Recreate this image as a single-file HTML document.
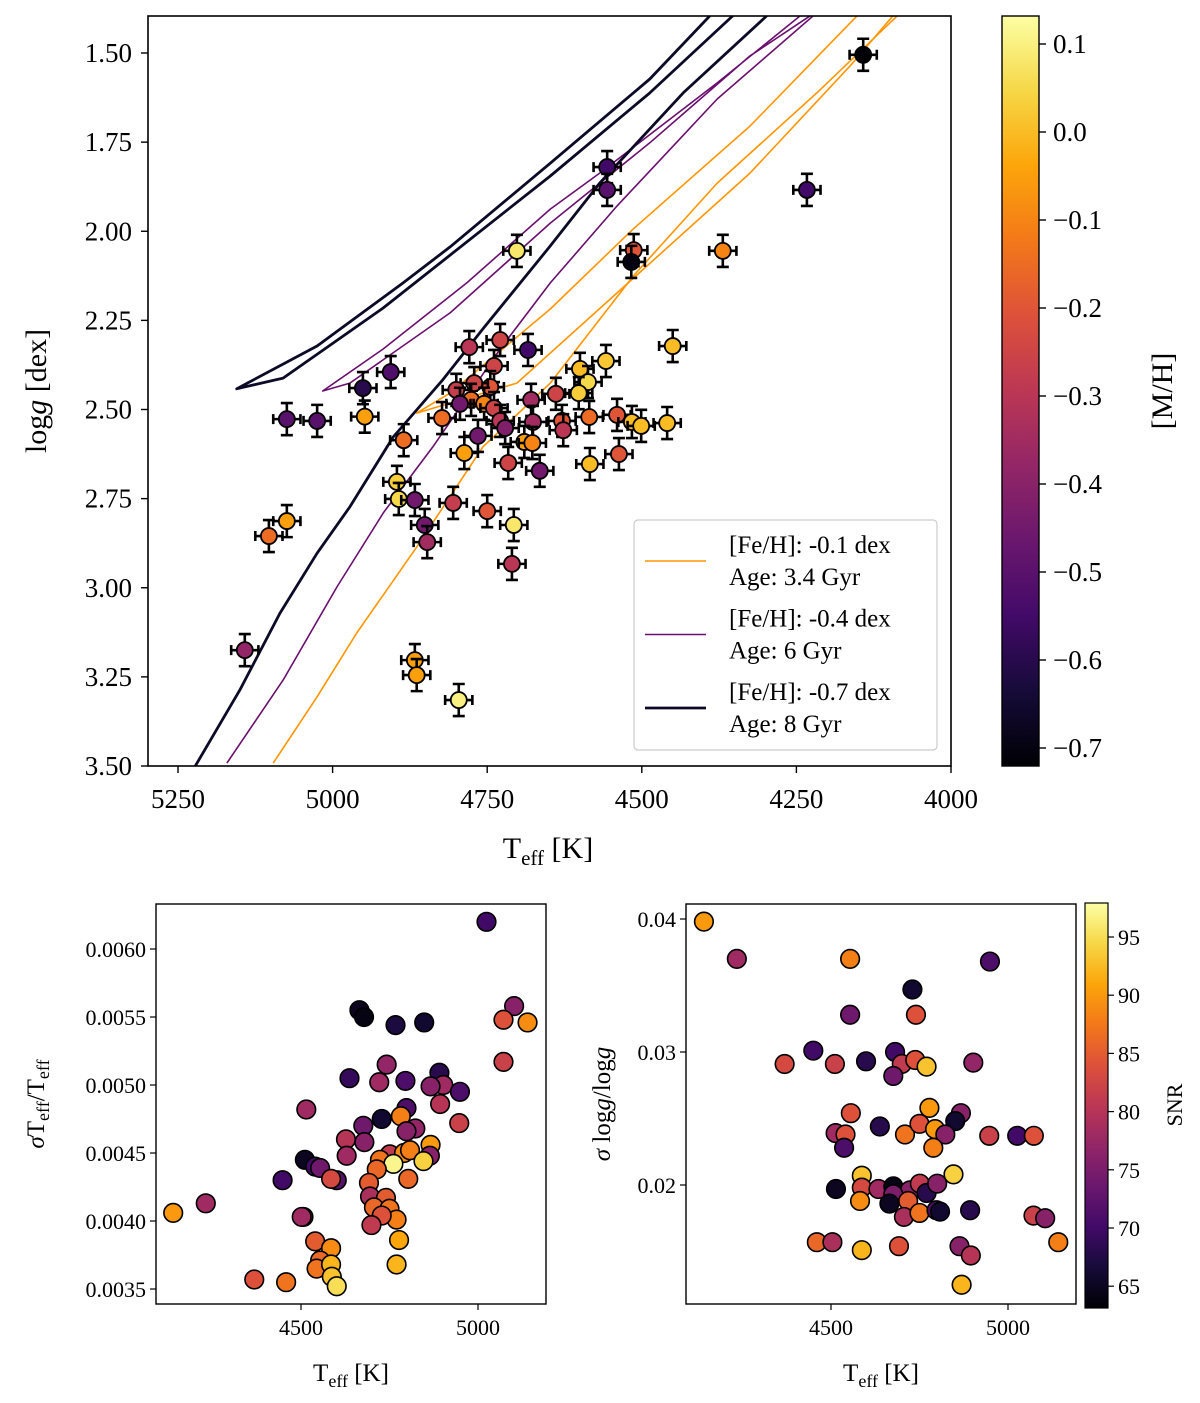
<!DOCTYPE html>
<html><head><meta charset="utf-8"><style>
html,body{margin:0;padding:0;background:#fff;}
svg{display:block;font-family:"Liberation Serif",serif;}
</style></head><body>
<svg id="fig" width="1200" height="1403" viewBox="0 0 1200 1403" xmlns="http://www.w3.org/2000/svg">
<defs>
<linearGradient id="inf" x1="0" y1="1" x2="0" y2="0">
<stop offset="0" stop-color="#000004"/><stop offset="0.1" stop-color="#160b39"/><stop offset="0.2" stop-color="#420a68"/><stop offset="0.3" stop-color="#6a176e"/><stop offset="0.4" stop-color="#932667"/><stop offset="0.5" stop-color="#bc3754"/><stop offset="0.6" stop-color="#dd513a"/><stop offset="0.7" stop-color="#f37819"/><stop offset="0.8" stop-color="#fca50a"/><stop offset="0.9" stop-color="#f6d746"/><stop offset="1" stop-color="#fcffa4"/>
</linearGradient>
<clipPath id="clipTop"><rect x="148" y="16" width="803" height="750"/></clipPath>
</defs>
<g id="topPanel"></g>
<g id="blPanel"></g>
<g id="brPanel"></g>
</svg>
<script>
// ---- Top panel data ----
const topTeff=[4142,4556,4556,4233,4702,4513,4517,4369,4450,4779,4729,4684,4906,4951,4948,5074,5025,4885,4600,4558,4587,4602,4739,4745,4771,4800,4776,4755,4794,4739,4679,4639,4823,4729,4721,4676,4629,4585,4540,4516,4501,4459,4627,4765,4690,4677,4787,4716,4665,4584,4537,4896,4893,4867,4805,4750,4851,4847,4707,4710,5074,5103,5142,4867,4864,4796];
const topLogg=[1.505,1.82,1.884,1.884,2.055,2.053,2.086,2.055,2.322,2.325,2.305,2.333,2.395,2.44,2.52,2.527,2.532,2.586,2.386,2.364,2.423,2.454,2.378,2.437,2.426,2.445,2.473,2.484,2.484,2.496,2.473,2.456,2.524,2.532,2.552,2.535,2.532,2.521,2.515,2.535,2.546,2.538,2.558,2.574,2.591,2.594,2.622,2.65,2.672,2.653,2.625,2.703,2.751,2.754,2.762,2.785,2.824,2.872,2.824,2.933,2.813,2.855,3.175,3.203,3.245,3.315];
const topMH=[-0.72,-0.55,-0.5,-0.55,0.08,-0.2,-0.7,-0.1,0.0,-0.3,-0.25,-0.55,-0.52,-0.6,-0.05,-0.5,-0.5,-0.15,0.0,0.02,0.05,0.03,-0.25,-0.2,-0.25,-0.27,-0.15,-0.1,-0.45,-0.25,-0.35,-0.25,-0.15,-0.3,-0.42,-0.35,-0.2,-0.15,-0.2,0.0,0.0,0.0,-0.3,-0.45,-0.05,-0.1,-0.05,-0.25,-0.45,0.0,-0.2,0.03,0.05,-0.45,-0.27,-0.2,-0.45,-0.35,0.08,-0.3,-0.05,-0.15,-0.38,-0.05,-0.05,0.1];
const topErrT=22, topErrG=0.045;
const xTicksTop=[5250,5000,4750,4500,4250,4000];
const yTicksTop=[1.5,1.75,2.0,2.25,2.5,2.75,3.0,3.25,3.5];
const cbTicksTop=[0.1,0.0,-0.1,-0.2,-0.3,-0.4,-0.5,-0.6,-0.7];
// isochrones
const isoOrangeRgbT=[5096,5025,4961,4864,4757,4648,4514,4378,4217,4087];
const isoOrangeRgbG=[3.492,3.306,3.127,2.886,2.605,2.426,2.126,1.865,1.612,1.396];
const isoOrangeHbT=[4152,4325,4514,4648,4810,4864,4702,4540,4325,4163,4094];
const isoOrangeHbG=[1.396,1.705,1.994,2.218,2.454,2.510,2.426,2.173,1.837,1.536,1.396];
const isoPurpleRgbT=[5171,5080,4993,4918,4838,4778,4729,4648,4540,4378,4223];
const isoPurpleRgbG=[3.492,3.259,2.998,2.790,2.605,2.454,2.330,2.145,1.929,1.629,1.396];
const isoPurpleHbT=[4244,4378,4568,4648,4783,4918,5016,4972,4810,4648,4487,4325,4228];
const isoPurpleHbG=[1.396,1.584,1.837,1.938,2.145,2.330,2.448,2.426,2.229,1.977,1.752,1.508,1.396];
const isoBlackRgbT=[5222,5150,5085,5025,4972,4902,4822,4757,4648,4568,4433,4298];
const isoBlackRgbG=[3.50,3.287,3.071,2.903,2.773,2.577,2.417,2.274,2.041,1.865,1.612,1.396];
const isoBlackHbT=[4390,4487,4648,4810,4886,5025,5155,5080,4918,4810,4648,4487,4353];
const isoBlackHbG=[1.396,1.573,1.809,2.044,2.145,2.322,2.442,2.412,2.215,2.067,1.845,1.612,1.396];
// ---- Bottom left ----
const blTeff=[5024,4665,4678,4767,4848,5102,5072,5140,5072,4742,4637,4721,4795,4891,4902,4866,4949,4893,4515,4798,4782,4728,4676,4947,4823,4798,4627,4679,4866,4864,4751,4791,4808,4629,4511,4540,4554,4723,4761,4846,4714,4448,4601,4585,4803,4692,4695,4740,4706,4750,4770,4728,4699,4231,4139,4507,4502,4777,4540,4585,4554,4544,4585,4587,4601,4770,4368,4458];
const blSig=[0.0062,0.00555,0.0055,0.00544,0.00546,0.00558,0.00548,0.00546,0.00517,0.00515,0.00505,0.00502,0.00503,0.00509,0.005,0.00499,0.00495,0.00486,0.00482,0.00483,0.00477,0.00475,0.0047,0.00472,0.00468,0.00466,0.0046,0.00458,0.00456,0.00448,0.00449,0.0045,0.00452,0.00448,0.00445,0.0044,0.00439,0.00445,0.00442,0.00444,0.00438,0.0043,0.0043,0.00431,0.00431,0.00428,0.00418,0.00417,0.0041,0.00409,0.00401,0.00404,0.00397,0.00413,0.00406,0.00403,0.00403,0.00386,0.00385,0.0038,0.00371,0.00365,0.00368,0.00359,0.00352,0.00368,0.00357,0.00355];
const blSNR=[70,65,64,67,66,76,84,89,82,77,69,78,71,68,78,76,71,80,78,71,88,66,74,82,77,76,80,76,90,76,81,89,88,78,65,70,74,87,97,94,86,70,72,83,86,85,79,85,86,87,88,84,81,78,90,80,78,91,85,89,86,87,92,93,95,92,84,87];
// ---- Bottom right ----
const brTeff=[4141,4234,4554,4949,4730,4554,4740,4450,4369,4511,4599,4681,4700,4738,4770,4676,4902,4556,4778,4867,4851,4638,4513,4541,4709,4750,4794,4823,4789,4537,4947,5026,5073,4587,4846,4514,4587,4634,4676,4723,4751,4770,4800,4676,4582,4665,4718,4706,4750,4798,4808,4893,5072,5105,4460,4504,4587,4692,4863,4895,5142,4869];
const brSig=[0.0398,0.037,0.037,0.0368,0.0347,0.0328,0.0328,0.0301,0.0291,0.0291,0.0293,0.03,0.0291,0.0294,0.0289,0.0282,0.0292,0.0254,0.0258,0.0254,0.0248,0.0244,0.0239,0.0238,0.0238,0.0246,0.0242,0.0238,0.0228,0.0228,0.0237,0.0237,0.0237,0.0207,0.0208,0.0197,0.0198,0.0197,0.0199,0.0196,0.0201,0.0194,0.0201,0.0193,0.0188,0.0186,0.0188,0.0176,0.0179,0.0181,0.018,0.0181,0.0177,0.0175,0.0157,0.0157,0.0151,0.0154,0.0154,0.0147,0.0157,0.0125];
const brSNR=[90,78,88,71,66,74,84,70,83,82,68,70,81,84,93,74,77,84,90,76,66,68,78,84,87,84,90,76,88,71,82,70,84,93,94,65,83,78,64,76,81,68,76,75,89,65,85,79,87,71,66,68,82,76,86,79,92,84,76,80,88,92];
const blXTicks=[4500,5000], blYTicks=[0.006,0.0055,0.005,0.0045,0.004,0.0035];
const brXTicks=[4500,5000], brYTicks=[0.04,0.03,0.02];
const snrTicks=[95,90,85,80,75,70,65];

const NS='http://www.w3.org/2000/svg';
function mk(tag,attrs,parent){const e=document.createElementNS(NS,tag);for(const k in attrs)e.setAttribute(k,attrs[k]);parent.appendChild(e);return e;}
const STOPS=[[0,0,0,4],[0.1,22,11,57],[0.2,66,10,104],[0.3,106,23,110],[0.4,147,38,103],[0.5,188,55,84],[0.6,221,81,58],[0.7,243,120,25],[0.8,252,165,10],[0.9,246,215,70],[1,252,255,164]];
function inferno(t){t=Math.max(0,Math.min(1,t));for(let i=1;i<STOPS.length;i++){if(t<=STOPS[i][0]){const a=STOPS[i-1],b=STOPS[i],f=(t-a[0])/(b[0]-a[0]);return 'rgb('+[1,2,3].map(j=>Math.round(a[j]+(b[j]-a[j])*f)).join(',')+')';}}return 'rgb(252,255,164)';}
function minus(v,d){const s=Math.abs(v).toFixed(d);return (v<-1e-9?'\u2212':'')+s;}

// ===== TOP =====
const topRoot=document.getElementById('topPanel');
const tx=T=>178+(5250-T)/250*154.6, ty=g=>53+(g-1.5)*356.5;
const MHMIN=-0.72, MHMAX=0.132;
const plotG=mk('g',{'clip-path':'url(#clipTop)'},topRoot);
function isoLine(Ts,Gs,color,w,name){
  const p=mk('polyline',{points:Ts.map((T,i)=>tx(T).toFixed(1)+','+ty(Gs[i]).toFixed(1)).join(' '),fill:'none',stroke:color,'stroke-width':w,'stroke-linejoin':'round'},plotG);
  
  
}
isoLine(isoOrangeRgbT,isoOrangeRgbG,'#ff9500',1.6,'isochrone-orange-rgb');
isoLine(isoOrangeHbT,isoOrangeHbG,'#ff9500',1.6,'isochrone-orange-hb');
isoLine(isoPurpleRgbT,isoPurpleRgbG,'#6a0f6e',1.6,'isochrone-purple-rgb');
isoLine(isoPurpleHbT,isoPurpleHbG,'#6a0f6e',1.6,'isochrone-purple-hb');
isoLine(isoBlackRgbT,isoBlackRgbG,'#0c0a26',2.8,'isochrone-black-rgb');
isoLine(isoBlackHbT,isoBlackHbG,'#0c0a26',2.8,'isochrone-black-hb');
topTeff.forEach((T,i)=>{
  const cx=tx(T), cy=ty(topLogg[i]);
  const g=mk('g',{},plotG);
  
  
  const x1=tx(T+topErrT), x2=tx(T-topErrT), y1=ty(topLogg[i]-topErrG), y2=ty(topLogg[i]+topErrG);
  mk('path',{d:`M${x1},${cy}H${x2}M${cx},${y1}V${y2}M${x1},${cy-5}v10M${x2},${cy-5}v10M${cx-6},${y1}h12M${cx-6},${y2}h12`,stroke:'#000','stroke-width':2.6,fill:'none'},g);
  mk('circle',{cx,cy,r:8,fill:inferno((topMH[i]-MHMIN)/(MHMAX-MHMIN)),stroke:'#000','stroke-width':1.8},g);
});
const frame=mk('rect',{x:148,y:16,width:803,height:750,fill:'none',stroke:'#000','stroke-width':1.6},topRoot);


xTicksTop.forEach(T=>{const x=tx(T);mk('line',{x1:x,y1:766,x2:x,y2:773,stroke:'#000','stroke-width':1.4},topRoot);
  const t=mk('text',{x,y:808,'font-size':27,'text-anchor':'middle'},topRoot);t.textContent=T;
  
  });
yTicksTop.forEach(g=>{const y=ty(g);mk('line',{x1:141,y1:y,x2:148,y2:y,stroke:'#000','stroke-width':1.4},topRoot);
  const t=mk('text',{x:132,y:y+9,'font-size':27,'text-anchor':'end'},topRoot);t.textContent=g.toFixed(2);
  
  });
const xl=mk('text',{x:548,y:858,'font-size':30,'text-anchor':'middle'},topRoot);
xl.innerHTML='T<tspan font-size="21" dy="7">eff</tspan><tspan dy="-7"> [K]</tspan>';


const yl=mk('text',{x:0,y:0,'font-size':30,'text-anchor':'middle',transform:'translate(46,391) rotate(-90)'},topRoot);
yl.innerHTML='log<tspan font-style="italic">g</tspan> [dex]';


// legend
const leg=mk('g',{},topRoot);


mk('rect',{x:634,y:520,width:303,height:230,rx:4,fill:'#fff','fill-opacity':0.85,stroke:'#ccc','stroke-width':1.2},leg);
[['#ff9500',1.6,'-0.1','3.4'],['#6a0f6e',1.6,'-0.4','6'],['#0c0a26',2.8,'-0.7','8']].forEach((e,k)=>{
  const y0=561+k*73.5;
  const it=mk('g',{},leg);
  
  
  mk('line',{x1:645,y1:y0,x2:706,y2:y0,stroke:e[0],'stroke-width':e[1]},it);
  const a=mk('text',{x:729,y:y0-8,'font-size':25},it);a.textContent='[Fe/H]: '+e[2]+' dex';
  const b=mk('text',{x:729,y:y0+24,'font-size':25},it);b.textContent='Age: '+e[3]+' Gyr';
});
// colorbar
const cby=v=>44+(0.1-v)*880;
const cb=mk('rect',{x:1002,y:16,width:37,height:750,fill:'url(#inf)',stroke:'#000','stroke-width':1.4},topRoot);


cbTicksTop.forEach(v=>{const y=cby(v);mk('line',{x1:1039,y1:y,x2:1046,y2:y,stroke:'#000','stroke-width':1.4},topRoot);
  const t=mk('text',{x:1053,y:y+9,'font-size':27},topRoot);t.textContent=minus(v,1);
  
  });
const cbl=mk('text',{x:0,y:0,'font-size':30,'text-anchor':'middle',transform:'translate(1172,391) rotate(-90)'},topRoot);
cbl.textContent='[M/H]';



// ===== BOTTOM =====
const SNRMIN=63.1, SNRMAX=97.9;
function bottomPanel(root,x0,xs,ys,Ts,Ss,Cs,xt,yt,yfmt,ylab,ylx){
  Ts.forEach((T,i)=>{const c=mk('circle',{cx:xs(T),cy:ys(Ss[i]),r:9.3,fill:inferno((Cs[i]-SNRMIN)/(SNRMAX-SNRMIN)),stroke:'#000','stroke-width':1.6},root);
    
    });
  const f=mk('rect',{x:x0,y:904,width:390,height:400,fill:'none',stroke:'#000','stroke-width':1.4},root);
  
  
  xt.forEach(T=>{const x=xs(T);mk('line',{x1:x,y1:1304,x2:x,y2:1310,stroke:'#000','stroke-width':1.2},root);
    const t=mk('text',{x:x,y:1335,'font-size':22,'text-anchor':'middle'},root);t.textContent=T;
    
    });
  yt.forEach(v=>{const y=ys(v);mk('line',{x1:x0-6,y1:y,x2:x0,y2:y,stroke:'#000','stroke-width':1.2},root);
    const t=mk('text',{x:x0-10,y:y+8,'font-size':22,'text-anchor':'end'},root);t.textContent=yfmt(v);
    
    });
  const xl2=mk('text',{x:x0+195,y:1381,'font-size':25,'text-anchor':'middle'},root);
  xl2.innerHTML='T<tspan font-size="18" dy="6">eff</tspan><tspan dy="-6"> [K]</tspan>';
  
  
  const yl2=mk('text',{x:0,y:0,'font-size':25,'text-anchor':'middle',transform:`translate(${ylx},1104) rotate(-90)`},root);
  yl2.innerHTML=ylab;
  
  
}
const blRoot=document.getElementById('blPanel');
const brRoot=document.getElementById('brPanel');
bottomPanel(blRoot,156,T=>301+(T-4500)*0.354,s=>949+(0.006-s)*136000,blTeff,blSig,blSNR,blXTicks,blYTicks,v=>v.toFixed(4),
 '<tspan font-style="italic">σ</tspan>T<tspan font-size="18" dy="5">eff</tspan><tspan dy="-5">/T</tspan><tspan font-size="18" dy="5">eff</tspan>',44);
bottomPanel(brRoot,686,T=>831+(T-4500)*0.354,s=>919+(0.04-s)*13300,brTeff,brSig,brSNR,brXTicks,brYTicks,v=>v.toFixed(2),
 '<tspan font-style="italic">σ</tspan> log<tspan font-style="italic">g</tspan>/log<tspan font-style="italic">g</tspan>',610);
const sy=v=>937+(95-v)*58.2/5;
const scb=mk('rect',{x:1085,y:903,width:23,height:405,fill:'url(#inf)',stroke:'#000','stroke-width':1.2},brRoot);


snrTicks.forEach(v=>{const y=sy(v);mk('line',{x1:1108,y1:y,x2:1114,y2:y,stroke:'#000','stroke-width':1.2},brRoot);
  const t=mk('text',{x:1118,y:y+8,'font-size':22},brRoot);t.textContent=v;
  
  });
const sl=mk('text',{x:0,y:0,'font-size':22,'text-anchor':'middle',transform:'translate(1182,1105) rotate(-90)'},brRoot);
sl.textContent='SNR';


</script>
</body></html>
